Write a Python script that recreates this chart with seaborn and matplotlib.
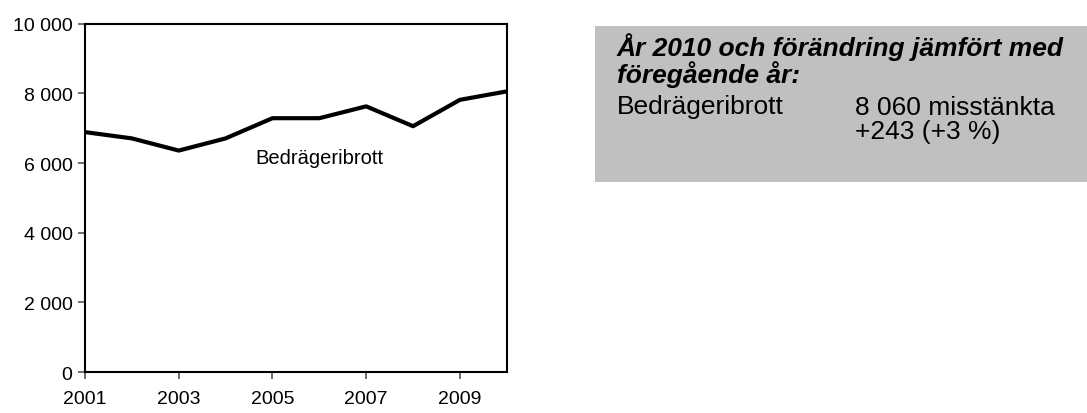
import pandas as pd
import matplotlib.pyplot as plt
import seaborn as sns
from matplotlib.patches import Rectangle
from matplotlib.ticker import FuncFormatter

years = [2001, 2002, 2003, 2004, 2005, 2006, 2007, 2008, 2009, 2010]
suspects = [6890, 6710, 6360, 6710, 7290, 7290, 7630, 7060, 7817, 8060]
series_label = 'Bedrägeribrott'
box_title = 'År 2010 och förändring jämfört med\nföregående år:'
box_value = '8 060 misstänkta\n+243 (+3 %)'


def space_thousands(v, pos):
    return f'{int(v):,}'.replace(',', ' ')


def main():
    sns.set_style('ticks')
    plt.rcParams['font.family'] = ['Liberation Sans', 'DejaVu Sans']
    plt.rcParams['text.color'] = 'black'

    df = pd.DataFrame({'År': years, 'Misstänkta': suspects})

    fig = plt.figure(figsize=(10.87, 4.14), dpi=100)
    ax = fig.add_axes([0.0782, 0.099, 0.388, 0.841])
    sns.lineplot(data=df, x='År', y='Misstänkta', color='black', linewidth=3, ax=ax)

    ax.set_xlim(2001, 2010)
    ax.set_ylim(0, 10000)
    ax.set_xticks([2001, 2003, 2005, 2007, 2009])
    ax.set_yticks(range(0, 10001, 2000))
    ax.yaxis.set_major_formatter(FuncFormatter(space_thousands))
    ax.set_xlabel('')
    ax.set_ylabel('')
    ax.tick_params(labelsize=14, length=5, width=1.2, color='#555555', labelcolor='black', pad=4)
    ax.tick_params(axis='x', pad=8)
    for s in ax.spines.values():
        s.set_visible(True)
        s.set_linewidth(1.5)
        s.set_color('black')
    ax.text(2006, 6150, series_label, fontsize=14.5, ha='center', va='center')

    # grey info box to the right
    fig.patches.append(Rectangle((0.547, 0.558), 0.46, 0.377, transform=fig.transFigure,
                                 facecolor='#c0c0c0', edgecolor='none', zorder=0))
    fig.text(0.5676, 0.800, box_title, fontsize=19, fontweight='bold', fontstyle='italic',
             va='baseline', linespacing=1.0)
    fig.text(0.5676, 0.724, series_label, fontsize=19, va='baseline')
    fig.text(0.7866, 0.664, box_value, fontsize=19, va='baseline', linespacing=1.0)

    plt.savefig('out.png', dpi=100)


if __name__ == '__main__':
    main()
